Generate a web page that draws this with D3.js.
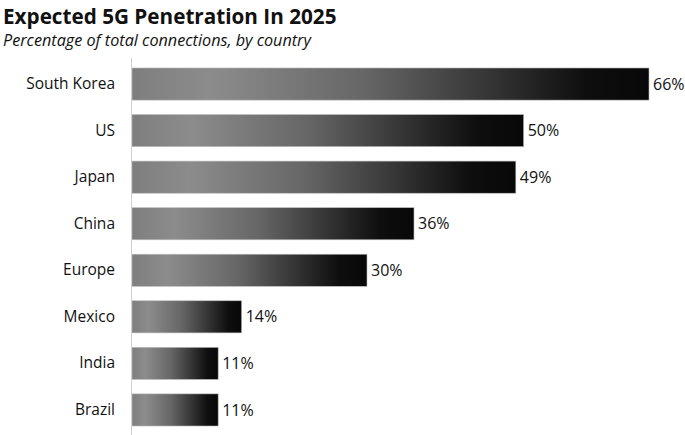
<!DOCTYPE html>
<html>
<head>
<meta charset="utf-8">
<script src="https://cdn.jsdelivr.net/npm/d3@7"></script>
<style>
  body { margin: 0; background: #fff; }
  svg { display: block; font-family: "Open Sans", sans-serif; }
</style>
</head>
<body>
<svg id="chart" width="685" height="435"></svg>
<script>
const countries = ['South Korea', 'US', 'Japan', 'China', 'Europe', 'Mexico', 'India', 'Brazil'];
const penetration = [66, 50, 49, 36, 30, 14, 11, 11];

const svg = d3.select('#chart');
const margin = { top: 60, right: 20, bottom: 0, left: 132 };
const width = 685;
const height = 435;

// title block
svg.append('text')
  .attr('x', 3).attr('y', 24)
  .attr('font-size', 20.7).attr('font-weight', 'bold')
  .attr('fill', '#111')
  .text('Expected 5G Penetration In 2025');

svg.append('text')
  .attr('x', 3).attr('y', 46)
  .attr('font-size', 16.2).attr('font-style', 'italic')
  .attr('fill', '#111')
  .text('Percentage of total connections, by country');

const x = d3.scaleLinear()
  .domain([0, 66])
  .range([margin.left, 649]);

const y = d3.scaleBand()
  .domain(countries)
  .range([61, 433])
  .paddingInner(0.31)
  .paddingOuter(0.15);

// gray to black, one per bar
const grad = svg.append('defs').append('linearGradient')
  .attr('id', 'barGrad')
  .attr('x1', '0%').attr('x2', '100%');
grad.selectAll('stop')
  .data([[0, '#7e7e7e'], [0.15, '#8c8c8c'], [0.45, '#666'], [0.7, '#333'], [0.88, '#0e0e0e'], [1, '#080808']])
  .join('stop')
  .attr('offset', d => d[0])
  .attr('stop-color', d => d[1]);

const rows = countries.map((c, i) => ({ country: c, value: penetration[i] }));

svg.append('g')
  .selectAll('rect')
  .data(rows)
  .join('rect')
  .attr('x', x(0))
  .attr('y', d => y(d.country))
  .attr('width', d => x(d.value) - x(0))
  .attr('height', y.bandwidth())
  .attr('fill', 'url(#barGrad)')
  .attr('stroke', '#bbb')
  .attr('stroke-width', 0.6);

// value labels
svg.append('g')
  .selectAll('text')
  .data(rows)
  .join('text')
  .attr('x', d => x(d.value) + 4)
  .attr('y', d => y(d.country) + y.bandwidth() / 2)
  .attr('dy', '0.35em')
  .attr('font-size', 16)
  .attr('fill', '#111')
  .text(d => d.value + '%');

// category axis
const yAxis = svg.append('g')
  .attr('transform', `translate(${margin.left},0)`)
  .call(d3.axisLeft(y).tickSize(0).tickPadding(17));
yAxis.select('.domain').remove();
yAxis.selectAll('text')
  .attr('font-size', 15.5)
  .attr('font-family', '"Open Sans", sans-serif')
  .attr('fill', '#111');

svg.append('line')
  .attr('x1', margin.left - 0.5).attr('x2', margin.left - 0.5)
  .attr('y1', 58).attr('y2', height)
  .attr('stroke', '#d0d0d0')
  .attr('stroke-width', 1);
</script>
</body>
</html>
